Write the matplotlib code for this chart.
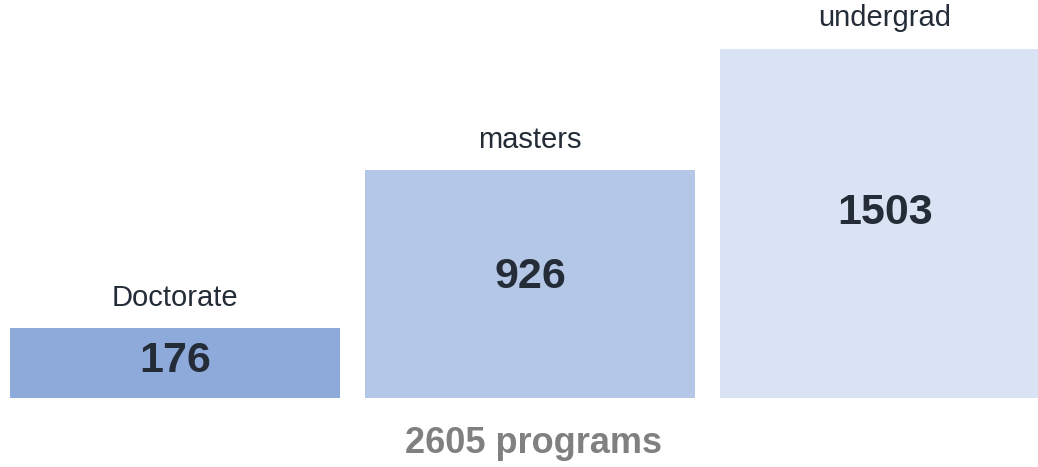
import numpy as np
import matplotlib
matplotlib.use("Agg")
import matplotlib.pyplot as plt

# program counts by degree level
levels = ["Doctorate", "masters", "undergrad"]
counts = [176, 926, 1503]
colors = ["#8eaadb", "#b4c7e7", "#dae3f3"]

plt.rcParams['font.family'] = ['Liberation Sans', 'DejaVu Sans']
text_color = "#242c37"
base = -155  # bars start below zero, like the original

fig = plt.figure(figsize=(10.38, 4.67), dpi=100)
ax = fig.add_axes([0, 0, 1, 1])

x = np.arange(len(levels))
vals = np.array(counts)
ax.bar(x, vals - base, bottom=base, width=0.93, color=colors, linewidth=0)

for xi, v, name in zip(x, vals, levels):
    ax.annotate(name, (xi, v), xytext=(0, 12), textcoords="offset points",
                ha="center", va="bottom", fontsize=21, color=text_color)
    ax.text(xi, base + 0.53 * (v - base), str(v), ha="center", va="center",
            fontsize=31, fontweight="bold", color=text_color)

ax.set_xlim(-0.493, 2.431)
ax.set_ylim(-482.5, 1734)
ax.axis("off")

fig.text(0.514, 0.05, f"{sum(counts)} programs", ha="center", va="center",
         fontsize=26, fontweight="bold", color="#808080")

fig.savefig("out.png", dpi=100)
